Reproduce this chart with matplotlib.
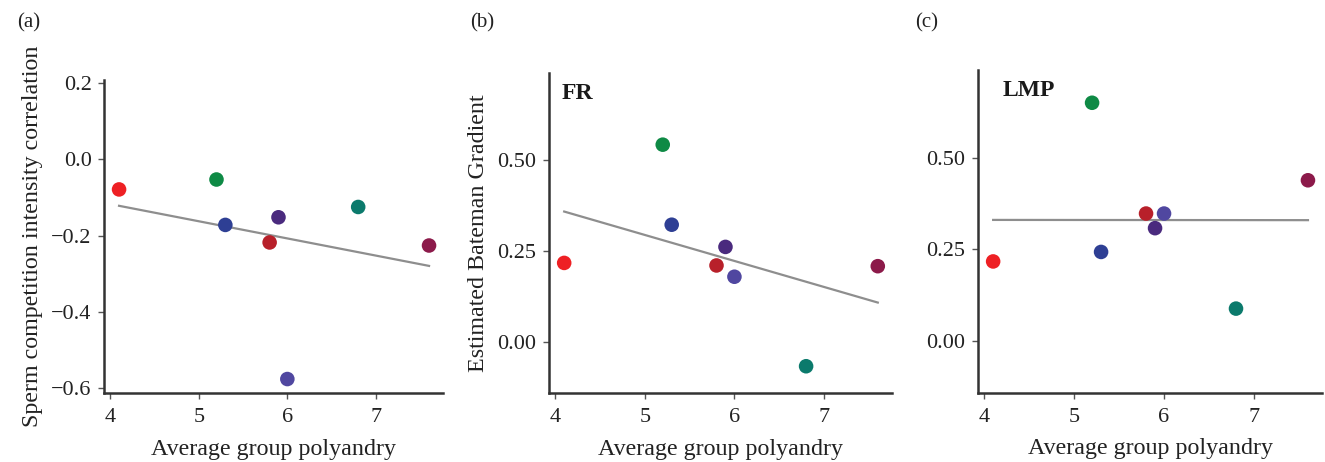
import numpy as np
import matplotlib
matplotlib.use("Agg")
import matplotlib.pyplot as plt

plt.rcParams['font.family'] = ['Liberation Serif', 'DejaVu Serif']

# polyandry per group (same for all panels)
polyandry = [4.1, 5.2, 5.3, 5.8, 5.9, 6.0, 6.8, 7.6]
colors = ['#ee2024', '#0e8a45', '#2e3f94', '#b8202a', '#4a2a7e', '#5047a0', '#0b7a6c', '#8c1a4a']

sci_corr = [-0.079, -0.053, -0.172, -0.218, -0.152, -0.576, -0.125, -0.226]
bateman_fr = [0.217, 0.542, 0.322, 0.210, 0.261, 0.179, -0.067, 0.208]
bateman_lmp = [0.217, 0.651, 0.243, 0.348, 0.308, 0.348, 0.088, 0.439]

fig = plt.figure(figsize=(13.25, 4.62), dpi=100)

axa = fig.add_axes([0.0785, 0.149, 0.256, 0.678])
axb = fig.add_axes([0.4143, 0.149, 0.259, 0.693])
axc = fig.add_axes([0.738, 0.150, 0.260, 0.698])

panels = [
    (axa, sci_corr, 'Sperm competition intensity correlation', None, 0.0, '(a)',
     (-0.613, 0.208), [-0.6, -0.4, -0.2, 0.0, 0.2], ['\u22120.6', '\u22120.4', '\u22120.2', '0.0', '0.2']),
    (axb, bateman_fr, 'Estimated Bateman Gradient', 'FR', 0.038, '(b)',
     (-0.141, 0.739), [0.0, 0.25, 0.5], ['0.00', '0.25', '0.50']),
    (axc, bateman_lmp, None, 'LMP', 0.072, '(c)',
     (-0.142, 0.74), [0.0, 0.25, 0.5], ['0.00', '0.25', '0.50']),
]

for ax, vals, ylab, tag, tagx, letter, ylim, yt, ytl in panels:
    x = np.array(polyandry)
    y = np.array(vals)
    k, b = np.polyfit(x, y, 1)
    xs = np.array([min(polyandry), max(polyandry)])
    ax.plot(xs, k * xs + b, color='#8e8e8e', lw=1.6, zorder=1)
    ax.scatter(x, y, c=colors, s=110, edgecolors='none', zorder=2)

    ax.set_xlim(3.93, 7.76)
    ax.set_ylim(*ylim)
    ax.set_xticks([4, 5, 6, 7])
    ax.set_yticks(yt)
    ax.set_yticklabels(ytl)
    ax.tick_params(labelsize=16, color='#555555', length=4, width=1, labelcolor='#222222')
    ax.tick_params(axis='x', pad=7)
    ax.tick_params(axis='y', pad=5)
    for s in ['top', 'right']:
        ax.spines[s].set_visible(False)
    for s in ['left', 'bottom']:
        ax.spines[s].set_color('#333333')
        ax.spines[s].set_linewidth(1.8)
    ax.set_xlabel('Average group polyandry', fontsize=17.3, color='#222222', labelpad=8)
    if ylab:
        ax.set_ylabel(ylab, fontsize=17.3, color='#222222', labelpad=6)
    if tag:
        ax.text(tagx, 0.97, tag, transform=ax.transAxes, fontsize=17, fontweight='bold',
                va='top', ha='left', color='#1a1a1a')

fig.text(0.013, 0.95, '(a)', fontsize=15, color='#222222', va='center')
fig.text(0.355, 0.95, '(b)', fontsize=15, color='#222222', va='center')
fig.text(0.691, 0.95, '(c)', fontsize=15, color='#222222', va='center')

fig.savefig('out.png', dpi=100)
